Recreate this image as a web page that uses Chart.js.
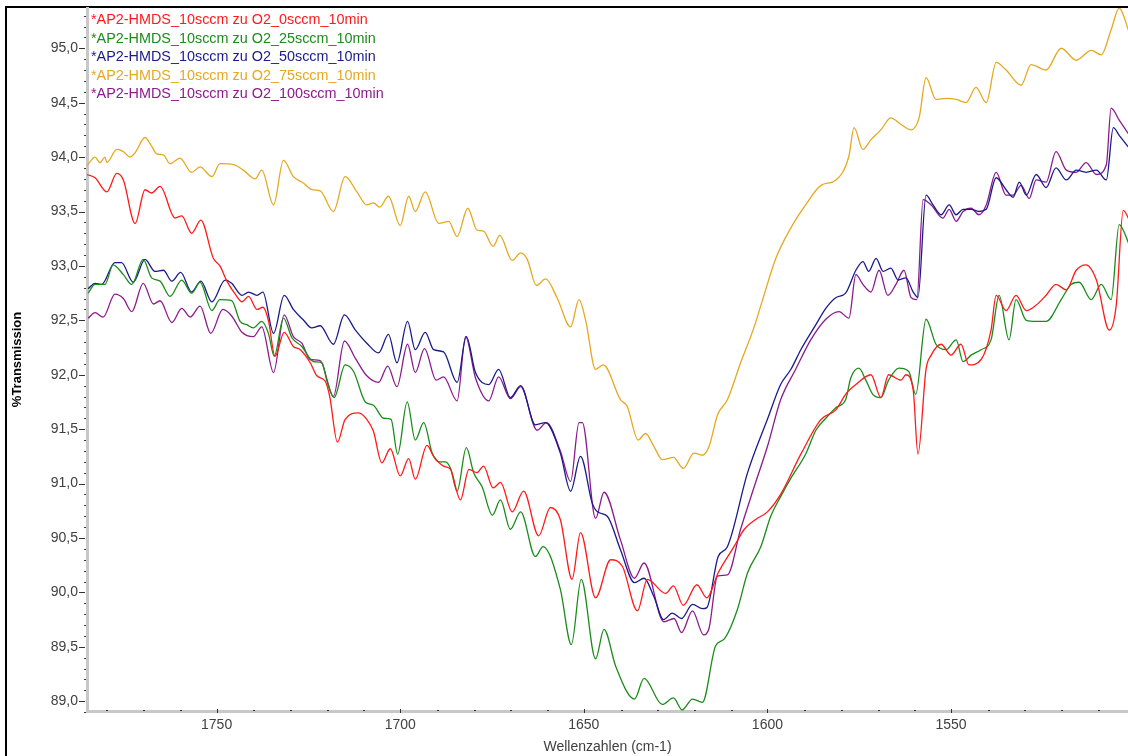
<!DOCTYPE html>
<html>
<head>
<meta charset="utf-8">
<script src="https://cdn.jsdelivr.net/npm/chart.js@4"></script>
<style>
  html, body { margin: 0; padding: 0; background: #fff; }
  #wrap { width: 1128px; height: 756px; position: relative; }
</style>
</head>
<body>
<div id="wrap"><canvas id="myChart"></canvas></div>
<script>
// Wellenzahl (cm-1), %Transmission
const labels = [
    '*AP2-HMDS_10sccm zu O2_0sccm_10min',
    '*AP2-HMDS_10sccm zu O2_25sccm_10min',
    '*AP2-HMDS_10sccm zu O2_50sccm_10min',
    '*AP2-HMDS_10sccm zu O2_75sccm_10min',
    '*AP2-HMDS_10sccm zu O2_100sccm_10min',
];
const colors = ['#ff1a1a', '#1a8c1a', '#1a1a8c', '#e6a820', '#8c1a8c'];

const o2_0 = [
    [1785.3,93.84],[1783.1,93.81],[1779.9,93.68],[1777.2,93.85],[1775.4,93.79],[1772.2,93.39],[1769.5,93.70],[1767.7,93.67],
    [1765.4,93.73],[1761.3,93.44],[1759.5,93.46],[1756.8,93.30],[1754.3,93.42],[1750.9,93.07],[1749.1,93.00],[1747.2,92.86],
    [1744.5,92.72],[1743.1,92.67],[1741.3,92.72],[1739.0,92.60],[1737.4,92.62],[1735.9,92.50],[1734.1,92.17],[1731.6,92.39],
    [1729.1,92.26],[1727.2,92.23],[1724.5,92.11],[1722.7,91.99],[1720.4,91.94],[1719.2,91.80],[1717.1,91.38],[1715.0,91.59],
    [1711.3,91.65],[1709.1,91.59],[1707.3,91.48],[1705.0,91.19],[1702.7,91.32],[1700.0,91.07],[1697.7,91.23],[1695.9,91.04],
    [1692.7,91.35],[1690.9,91.25],[1688.2,91.16],[1686.3,91.13],[1683.6,90.85],[1681.3,91.13],[1679.1,91.10],[1677.3,91.16],
    [1674.7,90.96],[1672.7,91.01],[1669.5,90.74],[1666.4,90.93],[1662.3,90.52],[1659.1,90.78],[1656.4,90.67],[1653.2,90.12],
    [1650.9,90.55],[1646.8,89.95],[1642.7,90.30],[1639.5,90.24],[1635.4,89.83],[1632.7,90.12],[1627.7,89.99],[1625.6,90.06],
    [1622.9,89.88],[1619.2,90.07],[1616.5,89.95],[1613.4,90.18],[1609.1,90.42],[1606.3,90.58],[1603.2,90.67],[1600.0,90.74],
    [1596.4,90.90],[1590.9,91.27],[1585.4,91.59],[1581.3,91.68],[1578.7,91.82],[1575.9,91.91],[1571.8,92.00],[1569.1,91.79],
    [1567.0,92.00],[1563.6,91.95],[1562.3,92.00],[1560.3,91.86],[1559.0,91.27],[1556.8,92.05],[1555.4,92.18],[1552.7,92.28],
    [1550.0,92.18],[1547.3,92.28],[1545.1,92.09],[1541.8,92.14],[1539.1,92.41],[1537.7,92.73],[1535.0,92.59],[1532.3,92.73],
    [1529.5,92.59],[1526.8,92.64],[1524.1,92.73],[1521.4,92.83],[1518.6,92.78],[1515.9,92.96],[1513.2,93.01],[1510.4,92.87],
    [1506.9,92.41],[1505.0,92.64],[1503.1,93.51],[1501.4,93.42],
];
const o2_25 = [
    [1785.0,92.75],[1783.1,92.83],[1780.4,92.83],[1778.2,93.01],[1775.4,92.92],[1773.1,92.83],[1770.0,93.06],[1767.7,92.89],
    [1765.4,92.86],[1762.7,92.72],[1759.5,92.87],[1756.8,92.75],[1754.5,92.85],[1751.3,92.59],[1749.1,92.69],[1745.9,92.68],
    [1743.6,92.49],[1741.8,92.46],[1740.0,92.43],[1737.7,92.49],[1735.9,92.38],[1734.3,92.17],[1731.8,92.52],[1729.5,92.34],
    [1726.8,92.26],[1723.6,92.12],[1721.3,92.11],[1720.0,91.95],[1718.0,91.79],[1715.0,92.09],[1712.7,92.03],[1709.5,91.75],
    [1707.3,91.72],[1704.5,91.60],[1702.5,91.59],[1700.7,91.27],[1698.1,91.75],[1695.9,91.40],[1693.6,91.56],[1691.3,91.28],
    [1689.5,91.20],[1687.7,91.20],[1686.3,91.14],[1684.5,90.93],[1682.0,91.33],[1680.0,91.10],[1677.7,90.97],[1674.9,90.71],
    [1672.7,90.85],[1670.0,90.58],[1667.2,90.74],[1663.2,90.33],[1661.1,90.42],[1656.4,90.03],[1653.4,89.52],[1650.7,90.12],
    [1646.8,89.39],[1644.5,89.66],[1641.3,89.32],[1636.2,89.02],[1633.6,89.21],[1628.6,88.97],[1625.6,89.03],[1623.2,88.92],
    [1620.4,89.02],[1617.7,88.99],[1614.1,89.51],[1611.8,89.57],[1608.2,89.84],[1605.4,90.18],[1601.8,90.42],[1599.1,90.70],
    [1596.4,90.88],[1593.6,91.05],[1589.6,91.27],[1586.8,91.49],[1584.1,91.60],[1581.3,91.70],[1578.7,91.77],[1577.3,91.97],
    [1575.1,92.06],[1573.2,91.95],[1571.3,91.82],[1569.1,91.79],[1567.0,91.95],[1564.2,92.06],[1561.5,92.03],[1559.6,91.82],
    [1556.8,92.51],[1554.1,92.28],[1551.4,92.23],[1548.6,92.32],[1546.7,92.12],[1544.5,92.18],[1541.8,92.23],[1539.1,92.32],
    [1536.9,92.73],[1534.2,92.32],[1532.3,92.69],[1529.5,92.50],[1526.8,92.49],[1524.1,92.49],[1520.0,92.69],[1517.3,92.83],
    [1515.1,92.85],[1511.8,92.69],[1509.1,92.83],[1506.4,92.69],[1504.2,93.38],[1501.4,93.19],
];
const o2_50 = [
    [1785.0,92.79],[1783.1,92.84],[1781.3,92.83],[1777.7,93.03],[1775.9,93.03],[1772.7,92.85],[1769.5,93.06],[1766.8,92.95],
    [1764.5,92.96],[1762.2,92.86],[1759.8,92.94],[1756.8,92.76],[1754.3,92.86],[1751.3,92.67],[1747.7,92.87],[1745.9,92.84],
    [1743.1,92.73],[1741.3,92.76],[1739.0,92.73],[1737.4,92.76],[1734.5,92.38],[1731.6,92.73],[1729.1,92.60],[1726.3,92.50],
    [1724.1,92.43],[1721.8,92.45],[1718.2,92.28],[1715.2,92.55],[1712.2,92.41],[1709.1,92.29],[1705.9,92.20],[1703.2,92.37],
    [1700.9,92.11],[1698.0,92.49],[1695.9,92.23],[1693.2,92.39],[1690.9,92.23],[1688.2,92.21],[1684.5,91.93],[1682.0,92.35],
    [1679.5,92.02],[1675.9,91.91],[1673.2,92.05],[1670.0,91.79],[1667.2,91.90],[1663.2,91.54],[1660.4,91.56],[1656.4,91.28],
    [1653.6,90.93],[1650.9,91.25],[1647.7,90.82],[1646.3,90.74],[1643.6,90.70],[1640.0,90.39],[1636.2,90.09],[1633.6,90.13],
    [1630.9,89.96],[1628.3,89.75],[1625.9,89.81],[1623.4,89.76],[1620.4,89.89],[1617.7,89.85],[1616.5,89.86],[1613.4,90.33],
    [1610.9,90.42],[1605.4,91.10],[1600.0,91.59],[1596.4,91.91],[1593.6,92.05],[1590.9,92.23],[1586.8,92.46],[1584.1,92.61],
    [1581.3,92.71],[1578.7,92.75],[1575.9,92.96],[1574.0,93.04],[1572.4,92.95],[1570.4,93.07],[1568.5,92.95],[1566.4,92.98],
    [1564.4,92.87],[1562.3,92.89],[1560.3,92.76],[1559.0,92.71],[1556.8,93.65],[1554.9,93.56],[1552.7,93.47],[1550.5,93.56],
    [1548.6,93.47],[1546.7,93.52],[1544.5,93.52],[1542.4,93.50],[1540.4,93.52],[1537.7,93.81],[1535.0,93.70],[1533.1,93.63],
    [1531.4,93.77],[1529.5,93.65],[1526.8,93.84],[1524.1,93.72],[1521.4,93.90],[1518.6,93.79],[1515.9,93.88],[1513.2,93.86],
    [1510.4,93.88],[1507.7,93.79],[1505.8,94.27],[1504.2,94.20],[1501.4,94.08],
];
const o2_75 = [
    [1785.3,93.92],[1783.1,94.00],[1781.8,93.95],[1780.4,94.00],[1779.9,93.95],[1777.2,94.07],[1775.4,94.05],[1773.6,94.00],
    [1772.2,94.04],[1769.5,94.18],[1767.7,94.10],[1766.3,94.03],[1764.5,94.02],[1762.7,93.94],[1760.0,93.99],[1756.8,93.86],
    [1754.5,93.91],[1751.3,93.82],[1749.1,93.94],[1745.4,93.93],[1742.7,93.88],[1739.5,93.80],[1737.7,93.88],[1734.5,93.56],
    [1731.8,93.97],[1729.1,93.82],[1726.3,93.76],[1724.0,93.70],[1721.8,93.69],[1718.2,93.50],[1715.0,93.82],[1711.8,93.68],
    [1709.1,93.56],[1707.3,93.58],[1705.6,93.54],[1703.2,93.64],[1700.0,93.37],[1697.7,93.64],[1695.9,93.50],[1693.2,93.68],
    [1689.5,93.39],[1686.8,93.41],[1684.5,93.27],[1681.6,93.53],[1679.1,93.33],[1677.3,93.32],[1674.7,93.18],[1672.9,93.28],
    [1669.5,93.05],[1667.2,93.12],[1665.4,93.06],[1662.9,92.82],[1660.4,92.88],[1657.2,92.70],[1653.6,92.44],[1651.3,92.69],
    [1649.5,92.50],[1646.8,92.05],[1644.7,92.09],[1640.0,91.77],[1638.2,91.71],[1635.2,91.40],[1633.2,91.46],[1630.9,91.34],
    [1628.6,91.22],[1625.6,91.24],[1622.9,91.14],[1620.0,91.28],[1617.7,91.26],[1615.9,91.34],[1613.6,91.63],[1610.9,91.77],
    [1607.3,92.11],[1603.6,92.44],[1601.3,92.69],[1597.7,93.07],[1593.6,93.35],[1589.6,93.56],[1585.4,93.74],[1581.3,93.79],
    [1577.8,94.01],[1576.4,94.27],[1574.0,94.07],[1571.8,94.16],[1569.1,94.25],[1566.4,94.36],[1563.6,94.30],[1560.9,94.25],
    [1558.7,94.36],[1556.8,94.73],[1554.1,94.53],[1551.4,94.54],[1548.6,94.53],[1545.9,94.50],[1543.2,94.64],[1540.4,94.50],
    [1537.7,94.87],[1535.0,94.80],[1530.9,94.66],[1528.2,94.85],[1524.1,94.80],[1520.0,95.00],[1515.9,94.89],[1511.8,94.98],
    [1509.1,94.94],[1506.4,95.17],[1504.2,95.37],[1501.4,95.14],
];
const o2_100 = [
    [1785.0,92.52],[1783.1,92.57],[1780.9,92.53],[1777.7,92.74],[1775.4,92.70],[1773.1,92.58],[1770.0,92.84],[1767.2,92.65],
    [1765.4,92.68],[1762.2,92.48],[1759.5,92.61],[1757.2,92.53],[1754.5,92.63],[1751.6,92.38],[1748.3,92.60],[1745.9,92.54],
    [1743.1,92.39],[1740.0,92.35],[1737.7,92.44],[1734.5,92.02],[1731.6,92.55],[1729.1,92.35],[1726.8,92.29],[1724.5,92.14],
    [1721.8,92.13],[1718.2,91.80],[1715.2,92.31],[1712.2,92.15],[1709.1,91.99],[1705.9,91.93],[1703.4,92.08],[1700.9,91.89],
    [1698.0,92.28],[1695.9,92.02],[1693.4,92.24],[1690.2,91.95],[1688.2,91.98],[1684.5,91.76],[1682.2,92.35],[1679.5,91.97],
    [1675.9,91.76],[1673.2,91.98],[1670.0,91.78],[1667.2,91.89],[1662.7,91.49],[1660.2,91.56],[1656.4,91.30],[1653.6,91.02],
    [1651.3,91.56],[1650.4,91.56],[1646.8,90.68],[1644.5,90.92],[1640.0,90.48],[1636.2,90.13],[1633.6,90.27],[1628.2,89.73],
    [1625.4,89.76],[1623.4,89.63],[1620.4,89.83],[1617.4,89.61],[1615.9,89.67],[1613.6,90.15],[1610.9,90.16],[1607.3,90.58],
    [1603.6,90.97],[1600.0,91.34],[1596.4,91.77],[1592.3,92.05],[1588.2,92.32],[1584.1,92.51],[1580.5,92.58],[1577.8,92.52],
    [1575.9,92.92],[1574.0,92.83],[1571.8,92.76],[1569.6,92.96],[1567.2,92.73],[1565.0,92.83],[1562.8,92.96],[1560.9,92.71],
    [1559.3,92.69],[1557.6,93.61],[1555.4,93.56],[1552.2,93.44],[1550.5,93.52],[1548.6,93.41],[1546.7,93.50],[1544.5,93.53],
    [1542.4,93.47],[1540.4,93.56],[1537.7,93.86],[1535.0,93.65],[1533.1,93.65],[1530.9,93.74],[1528.7,93.62],[1526.8,93.79],
    [1524.1,93.77],[1521.4,94.05],[1518.6,93.88],[1515.9,93.86],[1513.2,93.95],[1510.4,93.84],[1507.7,93.93],[1506.4,94.45],
    [1504.2,94.34],[1501.4,94.20],
];
const series = [o2_0, o2_25, o2_50, o2_75, o2_100];

const xMin = 1501.8, xMax = 1785.3;
const yMin = 88.91, yMax = 95.37;

const FONT = '"Liberation Sans", Arial, sans-serif';

// Rahmen, Nebenstriche und Legende
const decoPlugin = {
    id: 'deco',
    beforeDraw(chart) {
        const { ctx } = chart;
        ctx.save();
        ctx.fillStyle = '#000';
        ctx.fillRect(5, 6, 2, 750);
        ctx.fillRect(5, 6, 1123, 2);
        ctx.restore();
    },
    afterDraw(chart) {
        const { ctx, chartArea: { left, bottom }, scales: { x, y } } = chart;
        ctx.save();
        ctx.fillStyle = '#333';
        // y ticks
        for (let v = 889; v <= 953; v++) {
            const py = Math.round(y.getPixelForValue(v / 10));
            if (v % 5 === 0) ctx.fillRect(left - 8, py, 6, 1);
            else ctx.fillRect(left - 3, py, 2, 1);
        }
        // x ticks
        for (let v = 1510; v <= 1780; v += 10) {
            const px = Math.round(x.getPixelForValue(v));
            if (v % 50 === 0) ctx.fillRect(px, bottom - 2, 1, 4);
            else ctx.fillRect(px, bottom - 1, 2, 1);
        }
        // legend
        ctx.font = '14.4px ' + FONT;
        ctx.textBaseline = 'middle';
        ctx.textAlign = 'left';
        chart.data.datasets.forEach((ds, i) => {
            ctx.fillStyle = ds.borderColor;
            ctx.fillText(ds.label, 91, 20 + i * 18.6);
        });
        ctx.restore();
    }
};

const noPad = (s) => {
    s.paddingTop = 0;
    s.paddingBottom = 0;
    s.paddingLeft = 0;
    s.paddingRight = 0;
};

new Chart(document.getElementById('myChart'), {
    type: 'line',
    data: {
        datasets: series.map((s, i) => ({
            label: labels[i],
            data: s.map(([wn, t]) => ({ x: wn, y: t })),
            borderColor: colors[i],
            borderWidth: 1.3,
            pointRadius: 0,
            cubicInterpolationMode: 'monotone',
            fill: false,
        }))
    },
    options: {
        responsive: true,
        maintainAspectRatio: false,
        animation: false,
        layout: { padding: { top: 8, right: 0, left: 0, bottom: 0 } },
        scales: {
            x: {
                type: 'linear',
                reverse: true,
                min: xMin,
                max: xMax,
                afterFit: (s) => { s.height = 45; noPad(s); },
                grid: { display: false, drawTicks: false },
                border: { display: true, color: '#c8c8c8', width: 3 },
                ticks: {
                    stepSize: 50,
                    includeBounds: false,
                    padding: 6,
                    color: '#404040',
                    font: { family: FONT, size: 14 },
                    maxRotation: 0,
                    callback: (v) => String(v),
                },
                title: {
                    display: true,
                    text: 'Wellenzahlen (cm-1)',
                    color: '#404040',
                    font: { family: FONT, size: 14 },
                    padding: { top: 0, bottom: 0 },
                },
            },
            y: {
                min: yMin,
                max: yMax,
                afterFit: (s) => { s.width = 87; noPad(s); },
                grid: { display: false, drawTicks: false },
                border: { display: true, color: '#c8c8c8', width: 3 },
                ticks: {
                    stepSize: 0.5,
                    includeBounds: false,
                    padding: 9,
                    color: '#404040',
                    font: { family: FONT, size: 14 },
                    callback: (v) => v.toFixed(1).replace('.', ','),
                },
                title: {
                    display: true,
                    text: '%Transmission',
                    color: '#000',
                    font: { family: FONT, size: 13, weight: 'bold' },
                    padding: { top: 10, bottom: 0 },
                },
            },
        },
        plugins: {
            legend: { display: false },
            tooltip: { enabled: false },
        },
    },
    plugins: [decoPlugin]
});
</script>
</body>
</html>
